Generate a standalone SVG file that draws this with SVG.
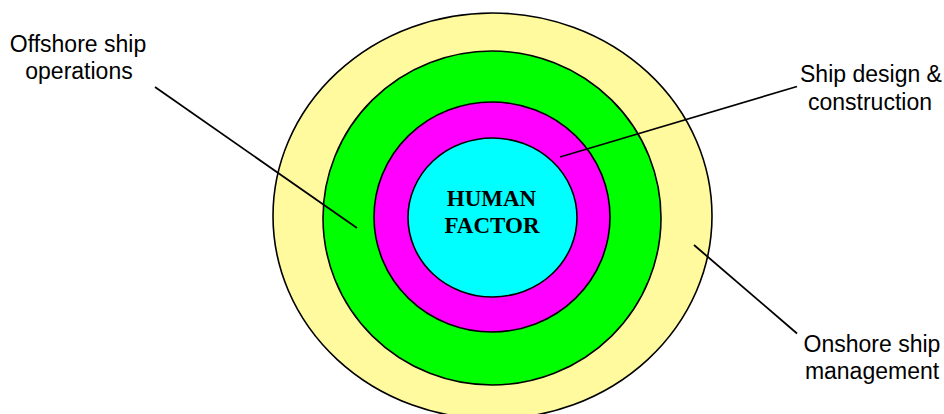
<svg xmlns="http://www.w3.org/2000/svg" width="944" height="414" viewBox="0 0 944 414">
<style>
.ring{stroke:#000;stroke-width:1.6}
.lbl{font-family:"Liberation Sans",Arial,sans-serif;font-size:23px;fill:#000;text-anchor:middle}
.core{font-family:"Liberation Serif","Times New Roman",serif;font-size:23px;font-weight:bold;fill:#000;text-anchor:middle}
.conn{stroke:#000;stroke-width:1.8;fill:none}
</style>
<rect width="944" height="414" fill="#fff"/>
<g id="onshore-ring"><ellipse class="ring" cx="492.5" cy="216" rx="219.5" ry="203" fill="#FFFA9E"/></g>
<g id="offshore-ring"><ellipse class="ring" cx="492" cy="218" rx="169" ry="167" fill="#00FF00"/></g>
<g id="design-ring"><ellipse class="ring" cx="492" cy="217" rx="118" ry="115" fill="#FF00FF"/></g>
<g id="human-factor"><ellipse class="ring" cx="492.5" cy="217.5" rx="84.5" ry="79.5" fill="#00FFFF"/>
<text class="core" x="491.5" y="206">HUMAN</text>
<text class="core" x="492" y="233">FACTOR</text></g>
<g id="connectors">
<line class="conn" x1="155" y1="87" x2="357" y2="228"/>
<line class="conn" x1="560" y1="157" x2="797" y2="86.5"/>
<line class="conn" x1="694" y1="245" x2="797" y2="333.5"/>
</g>
<g id="label-offshore"><text class="lbl" x="78" y="52">Offshore ship</text><text class="lbl" x="79" y="78.5">operations</text></g>
<g id="label-design"><text class="lbl" x="871" y="82">Ship design &amp;</text><text class="lbl" x="870" y="109.5">construction</text></g>
<g id="label-onshore"><text class="lbl" x="872" y="352">Onshore ship</text><text class="lbl" x="872" y="378.5">management</text></g>
</svg>
